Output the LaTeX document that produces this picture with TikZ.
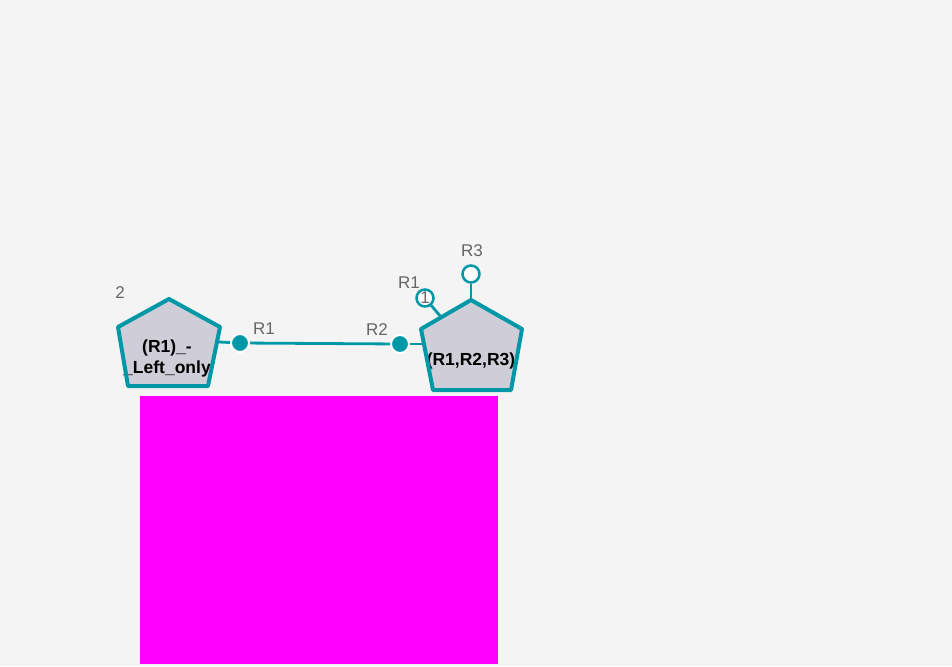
\documentclass[tikz,border=0pt]{standalone}
\usepackage{fontspec}
\setmainfont{Liberation Sans}
\definecolor{bgc}{HTML}{F4F4F4}
\definecolor{tealc}{HTML}{0097A7}
\definecolor{pfill}{HTML}{CFCDD8}
\definecolor{lblc}{HTML}{666666}
\definecolor{magc}{HTML}{FF00FF}
\begin{document}
\begin{tikzpicture}[x=1pt,y=-1pt,
  pentfill/.style={fill=pfill},
  pentline/.style={draw=tealc,line width=4pt,line join=round},
  conn/.style={draw=tealc,line width=2.8pt},
  fulldot/.style={circle,fill=tealc,draw=white,line width=2pt,minimum size=18pt,inner sep=0pt},
  opendot/.style={circle,fill=white,draw=tealc,line width=2.5pt,minimum size=17pt,inner sep=0pt},
  lbl/.style={text=lblc,font=\fontsize{17}{20}\selectfont,inner sep=0pt},
  ptext/.style={font=\bfseries\fontsize{17.5}{21}\selectfont,align=center,inner sep=0pt}]
\fill[bgc] (0,0) rectangle (952,666);
\useasboundingbox (0,0) rectangle (952,666);
% magenta block
\fill[magc] (140,396) rectangle (498,664);
% left pentagon
\coordinate (L1) at (169,299);
\coordinate (L2) at (220,327);
\coordinate (L3) at (208,386);
\coordinate (L4) at (128,386);
\coordinate (L5) at (118,327);
\fill[pentfill] (L1)--(L2)--(L3)--(L4)--(L5)--cycle;
\node[ptext] (lt) at (167,358) {(R1)\_-\\\_Left\_only};
\draw[pentline] (L1)--(L2)--(L3)--(L4)--(L5)--cycle;
% right pentagon
\coordinate (P1) at (471,300);
\coordinate (P2) at (522,329);
\coordinate (P3) at (511,390);
\coordinate (P4) at (433,390);
\coordinate (P5) at (421,329);
\fill[pentfill] (P1)--(P2)--(P3)--(P4)--(P5)--cycle;
\node[ptext] (rtx) at (471,361) {(R1,R2,R3)};
% attachment points
\coordinate (la) at (219,342);
\coordinate (ra) at (423,344);
\coordinate (rtop) at (471,300);
\coordinate (rul) at (441,317);
% dots
\node[fulldot] (d1) at (240,343) {};
\node[fulldot] (d2) at (400,344) {};
\node[opendot] (c3) at (471,274) {};
\node[opendot] (c1) at (425,298) {};
% connectors
\draw[conn] (la) -- (d1);
\draw[conn] (d1) -- (d2);
\draw[conn] (d2) -- (ra);
\draw[conn] (rtop) -- (c3);
\draw[conn] (c1) -- (rul);
\draw[pentline] (P1)--(P2)--(P3)--(P4)--(P5)--cycle;
% labels
\node[lbl] (n2) at (120,293) {2};
\node[lbl] (n1) at (425,298) {1};
\node[lbl] (lr1) at (264,329) {R1};
\node[lbl] (lr2) at (377,330) {R2};
\node[lbl] (lr1b) at (409,283) {R1};
\node[lbl] (lr3) at (472,251) {R3};
\end{tikzpicture}
\end{document}
